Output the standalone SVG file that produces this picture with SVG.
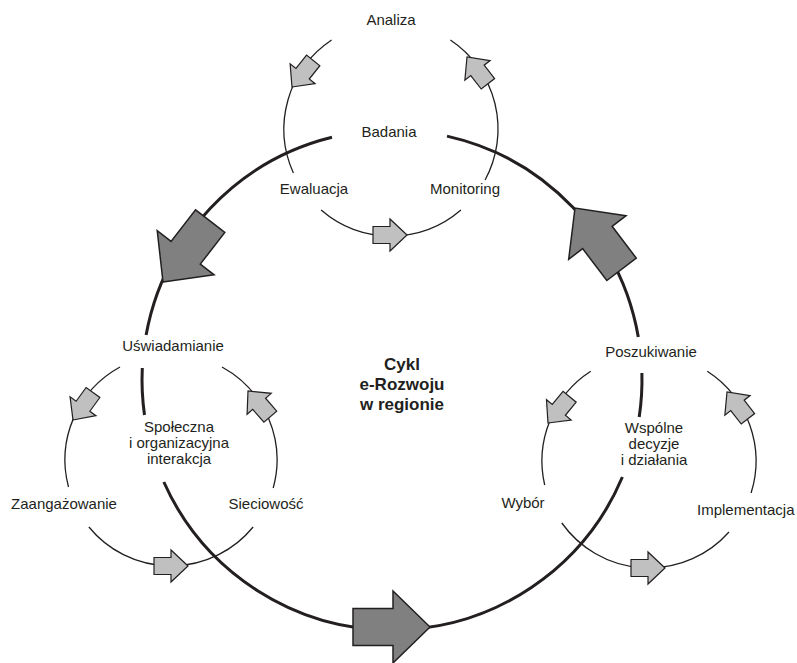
<svg xmlns="http://www.w3.org/2000/svg" width="797" height="663" viewBox="0 0 797 663">
<defs>
<style>
.big{fill:none;stroke:#231f20;stroke-width:3}
.small{fill:none;stroke:#231f20;stroke-width:1.3}
.ab{fill:#808080;stroke:#231f20;stroke-width:1.5;stroke-linejoin:miter}
.as{fill:#c0c0c0;stroke:#231f20;stroke-width:1.2;stroke-linejoin:miter}
text{font-family:"Liberation Sans",Arial,sans-serif;font-size:15px;fill:#231f20;text-anchor:middle}
.title{font-weight:bold;font-size:17px}
</style>
<path id="bigArrow" d="M0,0 L-37,-36 L-37,-18.5 L-77,-18.5 L-77,18.5 L-37,18.5 L-37,36 Z"/>
<path id="smallArrow" d="M0,0 L-17,-16 L-17,-8.5 L-34,-8.5 L-34,8.5 L-17,8.5 L-17,16 Z"/>
</defs>
<rect width="797" height="663" fill="#ffffff"/>
<g id="connectors">
<!-- big cycle -->
<path class="big" d="M332,137.3 A250,250 0 0 0 146.1,335"/>
<path class="big" d="M142.3,368 A250,250 0 0 0 144.5,415"/>
<path class="big" d="M163.8,482 A250,250 0 0 0 622.4,477"/>
<path class="big" d="M639.2,417 A250,250 0 0 0 641.9,373"/>
<path class="big" d="M638.3,337 A250,250 0 0 0 447,136.1"/>
<!-- top small cycle -->
<path class="small" d="M331.6,40 A107,107 0 0 0 293.4,173"/>
<path class="small" d="M321.1,210 A107,107 0 0 0 460.9,210"/>
<path class="small" d="M485.1,180 A107,107 0 0 0 450.4,40"/>
<!-- left small cycle -->
<path class="small" d="M120,367 A106,106 0 0 0 68.5,487"/>
<path class="small" d="M88.9,527 A106,106 0 0 0 253.1,527"/>
<path class="small" d="M273.2,488 A106,106 0 0 0 222,367"/>
<!-- right small cycle -->
<path class="small" d="M590.7,371.3 A107,107 0 0 0 544.7,485"/>
<path class="small" d="M561.8,523 A107,107 0 0 0 729,532"/>
<path class="small" d="M751.1,493 A107,107 0 0 0 707.3,371.3"/>
<!-- arrows -->
<use href="#bigArrow" class="ab" transform="translate(430,627)"/>
<use href="#bigArrow" class="ab" transform="translate(163,282) rotate(127.8)"/>
<use href="#bigArrow" class="ab" transform="translate(575,208) rotate(-127.2)"/>
<use href="#smallArrow" class="as" transform="translate(292,87) rotate(128.6)"/>
<use href="#smallArrow" class="as" transform="translate(467,57) rotate(-128)"/>
<use href="#smallArrow" class="as" transform="translate(407,235)"/>
<use href="#smallArrow" class="as" transform="translate(73,420) rotate(126)"/>
<use href="#smallArrow" class="as" transform="translate(248,391) rotate(-131)"/>
<use href="#smallArrow" class="as" transform="translate(188,566)"/>
<use href="#smallArrow" class="as" transform="translate(548,423) rotate(129.5)"/>
<use href="#smallArrow" class="as" transform="translate(727,392) rotate(-128)"/>
<use href="#smallArrow" class="as" transform="translate(665,568)"/>
</g>
<g id="center"><text class="title" x="402" y="370">Cykl</text><text class="title" x="402" y="390">e-Rozwoju</text><text class="title" x="402" y="410">w regionie</text></g>
<g id="badania"><text x="389" y="137">Badania</text></g>
<g id="analiza"><text x="391" y="25">Analiza</text></g>
<g id="ewaluacja"><text x="314" y="194">Ewaluacja</text></g>
<g id="monitoring"><text x="465" y="194">Monitoring</text></g>
<g id="uswiadamianie"><text x="173" y="351">Uświadamianie</text></g>
<g id="spoleczna"><text x="179" y="432">Społeczna</text><text x="179" y="448">i organizacyjna</text><text x="179" y="464">interakcja</text></g>
<g id="zaangazowanie"><text x="64" y="509">Zaangażowanie</text></g>
<g id="sieciowosc"><text x="266" y="509">Sieciowość</text></g>
<g id="poszukiwanie"><text x="651" y="357">Poszukiwanie</text></g>
<g id="wspolne"><text x="654" y="433">Wspólne</text><text x="654" y="449">decyzje</text><text x="654" y="465">i działania</text></g>
<g id="wybor"><text x="523" y="508">Wybór</text></g>
<g id="implementacja"><text x="697" y="515" style="text-anchor:start">Implementacja</text></g>
</svg>
